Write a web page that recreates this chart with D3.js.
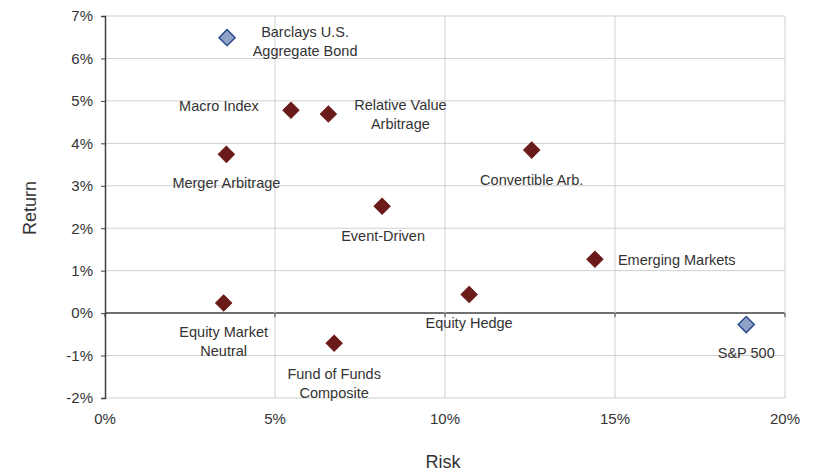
<!DOCTYPE html>
<html>
<head>
<meta charset="utf-8">
<script src="https://cdn.jsdelivr.net/npm/d3@7"></script>
<style>
body{margin:0;background:#fff;}
text{font-family:"Liberation Sans",Arial,sans-serif;fill:#333;}
</style>
</head>
<body>
<svg id="chart" width="816" height="473"></svg>
<script>
// values (risk %, return %)
var names = ["Barclays U.S.|Aggregate Bond","Macro Index","Relative Value|Arbitrage","Merger Arbitrage",
	"Convertible Arb.","Event-Driven","Emerging Markets","Equity Hedge","Equity Market|Neutral",
	"Fund of Funds|Composite","S&P 500"];
var risk = [3.59, 5.47, 6.57, 3.57, 12.55, 8.15, 14.41, 10.71, 3.49, 6.74, 18.86];
var ret = [6.49, 4.78, 4.69, 3.74, 3.84, 2.52, 1.27, 0.44, 0.24, -0.71, -0.27];
var kind = ["index","hf","hf","hf","hf","hf","hf","hf","hf","hf","index"];
// label offsets in px from the marker
var labelDx = [78, -72, 72, 0, 0, 1, 23, 0, 0, 0, 0];
var labelDy = [-1, 1, -4, 34, 35, 35, 6, 34, 34, 36, 33];
var labelAnchor = ["middle","middle","middle","middle","middle","middle","start","middle","middle","middle","middle"];

var xTicks = [0, 5, 10, 15, 20];
var yTicks = [-2, -1, 0, 1, 2, 3, 4, 5, 6, 7];

var svg = d3.select("#chart");
var x = d3.scaleLinear().domain([0, 20]).range([105, 785]);
var y = d3.scaleLinear().domain([-2, 7]).range([398, 16]);

// grid
svg.append("g").selectAll("line").data(yTicks).enter().append("line")
	.attr("x1", x(0)).attr("x2", x(20))
	.attr("y1", function(d){ return y(d); }).attr("y2", function(d){ return y(d); })
	.attr("stroke", function(d){ return d === 0 ? "#404040" : "#d0d0d0"; })
	.attr("stroke-width", function(d){ return d === 0 ? 1.5 : 1; });
svg.append("g").selectAll("line").data(xTicks.slice(1)).enter().append("line")
	.attr("x1", function(d){ return x(d); }).attr("x2", function(d){ return x(d); })
	.attr("y1", y(7)).attr("y2", y(-2))
	.attr("stroke", "#d0d0d0");

// x ticks hang off the zero line
svg.append("g").selectAll("line").data(xTicks).enter().append("line")
	.attr("x1", function(d){ return x(d); }).attr("x2", function(d){ return x(d); })
	.attr("y1", y(0)).attr("y2", y(0) + 4)
	.attr("stroke", "#404040");

var yAxis = d3.axisLeft(y).tickValues(yTicks).tickSize(4).tickPadding(8)
	.tickFormat(function(d){ return d + "%"; });
var gy = svg.append("g").attr("transform", "translate(" + x(0) + ",0)").call(yAxis);
gy.select(".domain").attr("stroke", "#404040").attr("stroke-width", 1.5);
gy.selectAll(".tick line").attr("stroke", "#404040");
gy.selectAll("text").attr("font-size", 15).attr("fill", "#333").attr("font-family", "Liberation Sans, Arial, sans-serif");

var gx = svg.append("g");
gx.selectAll("text").data(xTicks).enter().append("text")
	.attr("x", function(d){ return x(d); }).attr("y", 424)
	.attr("text-anchor", "middle").attr("font-size", 15)
	.text(function(d){ return d + "%"; });

// axis titles
svg.append("text").attr("x", 443).attr("y", 468).attr("text-anchor", "middle")
	.attr("font-size", 18).text("Risk");
svg.append("text").attr("transform", "translate(36,208) rotate(-90)").attr("text-anchor", "middle")
	.attr("font-size", 18).text("Return");

// markers
var pts = d3.range(names.length);
svg.append("g").selectAll("path").data(pts).enter().append("path")
	.attr("d", d3.symbol().type(d3.symbolSquare).size(130))
	.attr("transform", function(i){ return "translate(" + x(risk[i]) + "," + y(ret[i]) + ") rotate(45)"; })
	.attr("fill", function(i){ return kind[i] === "index" ? "#8fa2c7" : "#6b1a1a"; })
	.attr("stroke", function(i){ return kind[i] === "index" ? "#2c4d8c" : "#6b1a1a"; })
	.attr("stroke-width", function(i){ return kind[i] === "index" ? 1.5 : 1; });

// labels
var lab = svg.append("g").selectAll("text").data(pts).enter().append("text")
	.attr("x", function(i){ return x(risk[i]) + labelDx[i]; })
	.attr("y", function(i){ return y(ret[i]) + labelDy[i]; })
	.attr("text-anchor", function(i){ return labelAnchor[i]; })
	.attr("font-size", 14.5);
lab.each(function(i){
	var lines = names[i].split("|");
	var t = d3.select(this);
	lines.forEach(function(s, k){
		t.append("tspan").attr("x", x(risk[i]) + labelDx[i]).attr("dy", k === 0 ? 0 : 19).text(s);
	});
});
</script>
</body>
</html>
